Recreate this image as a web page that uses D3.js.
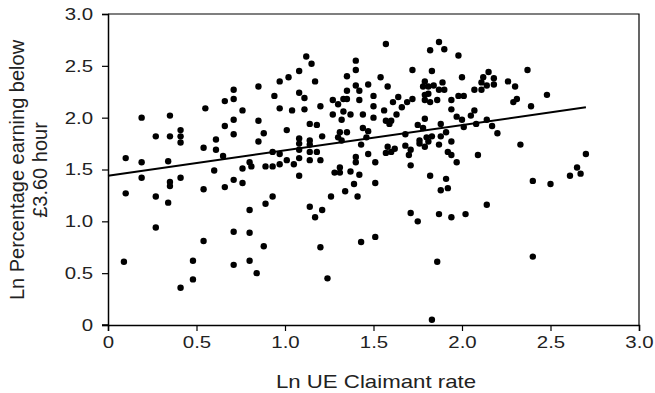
<!DOCTYPE html>
<html>
<head>
<meta charset="utf-8">
<script src="https://cdn.jsdelivr.net/npm/d3@7"></script>
<style>
  html, body { margin: 0; padding: 0; background: #fff; }
  svg { display: block; font-family: "Liberation Sans", Arial, Helvetica, sans-serif; }
</style>
</head>
<body>
<svg id="chart" width="655" height="393"></svg>
<script>
// Ln UE claimant rate (x) and Ln percentage earning below £3.60/hour (y)
const claimantRate = [
  0.10,0.19,0.34,0.19,0.35,0.27,0.35,0.41,0.41,0.41,
  0.55,0.54,0.61,0.61,0.65,0.66,0.66,0.71,0.71,0.71,
  0.71,0.76,0.85,0.85,0.85,0.88,0.80,0.81,0.60,0.76,
  0.89,0.19,0.41,0.35,0.35,0.71,0.76,0.66,0.54,0.10,
  0.27,0.34,0.80,0.89,0.27,0.71,0.80,0.54,0.88,0.09,
  0.48,0.80,0.71,0.84,0.48,0.41,
  0.93,0.93,0.97,0.97,0.97,0.94,0.97,0.93,1.01,1.01,
  1.02,1.04,1.05,1.08,1.08,1.08,1.08,1.08,1.08,1.08,
  1.12,1.11,1.11,1.15,1.14,1.14,1.14,1.14,1.14,1.14,
  1.17,1.18,1.18,1.17,1.20,1.21,1.20,1.21,1.20,1.24,
  1.27,1.30,1.33,1.35,1.35,1.27,1.33,1.37,1.32,1.31,
  1.35,1.30,1.32,1.31,1.28,1.31,1.37,1.26,1.34,1.35,
  1.40,1.40,1.40,1.42,1.42,1.44,1.44,1.47,1.46,1.43,
  1.40,1.40,1.42,1.39,1.41,1.43,1.47,1.50,1.50,1.50,
  1.47,1.51,1.51,1.51,1.54,1.57,1.58,1.56,1.57,1.59,
  1.60,1.61,1.63,1.64,1.66,1.58,1.62,1.57,1.60,1.68,
  1.71,1.70,1.68,1.69,1.72,1.72,1.71,1.71,1.75,1.75,
  1.78,1.79,1.76,1.76,1.81,1.79,1.83,1.82,1.87,1.90,
  1.79,1.78,1.81,1.84,1.89,1.87,1.90,1.79,1.81,1.79,
  1.82,1.86,1.94,1.98,2.01,1.94,2.00,1.88,1.87,1.88,
  1.83,1.80,1.91,1.94,1.92,1.94,1.97,1.82,1.91,1.88,
  1.92,1.87,1.94,1.86,1.83,
  1.98,2.37,2.15,2.12,2.18,2.11,2.14,2.18,2.07,2.11,
  2.26,2.30,2.48,2.31,2.29,2.39,2.07,2.05,1.97,2.00,
  2.14,2.01,2.08,2.17,2.20,2.33,2.09,2.70,2.65,2.02,
  2.14,2.40,2.50,2.61,2.67,2.40
];
const lowPayShare = [
  1.61,1.57,1.58,2.00,2.02,1.82,1.82,1.88,1.82,1.76,
  2.09,1.71,1.69,1.79,1.63,2.16,1.92,1.98,1.84,2.27,
  2.18,2.07,2.30,1.97,1.77,1.85,1.57,1.53,1.49,1.51,
  1.53,1.42,1.42,1.38,1.34,1.40,1.37,1.33,1.31,1.27,
  1.24,1.18,1.11,1.17,0.94,0.90,0.89,0.81,0.76,0.61,
  0.62,0.62,0.58,0.50,0.44,0.36,
  1.67,1.53,1.65,1.55,2.35,2.21,2.09,1.24,1.88,1.59,
  2.39,2.07,1.55,1.80,1.75,1.69,1.61,1.44,2.45,2.24,
  2.59,2.19,2.08,2.52,1.94,1.78,1.74,1.67,1.59,1.14,
  2.35,1.93,1.67,1.04,2.11,1.82,1.59,1.11,0.75,0.45,
  2.17,2.13,2.18,2.18,2.26,2.03,2.06,2.03,1.98,1.86,
  1.86,1.81,1.78,1.52,1.47,1.47,1.48,1.24,1.29,2.40,
  2.31,2.55,2.46,2.26,2.17,2.03,1.90,1.87,1.81,1.74,
  1.62,1.57,1.45,1.36,1.24,0.80,2.32,2.21,2.11,2.00,
  1.65,1.57,1.37,0.85,2.39,2.71,2.30,2.07,1.97,1.94,
  1.97,2.15,2.03,2.20,2.10,1.72,1.70,1.66,1.67,1.73,
  1.69,1.64,1.84,2.15,2.18,2.46,1.54,1.08,1.00,1.93,
  1.90,1.99,1.78,1.75,1.77,1.72,2.45,2.65,2.73,2.66,
  2.35,2.30,2.30,2.31,2.34,2.27,2.27,2.22,2.23,2.17,
  2.15,2.17,2.17,2.21,2.21,2.08,2.39,1.94,1.74,1.82,
  1.82,1.81,1.86,1.77,1.67,1.64,1.57,1.44,1.41,1.30,
  1.32,1.07,1.04,0.61,0.05,
  2.60,2.46,2.44,2.39,2.38,2.34,2.31,2.32,2.27,2.27,
  2.35,2.30,2.22,2.18,2.15,2.11,2.07,2.02,2.01,1.98,
  1.98,1.91,1.94,1.92,1.85,1.74,1.64,1.65,1.52,1.07,
  1.16,1.39,1.36,1.44,1.46,0.66
];
// fitted regression line end points
const fitX = [0, 2.70];
const fitY = [1.44, 2.10];
const xTicks = [0, 0.5, 1.0, 1.5, 2.0, 2.5, 3.0];
const yTicks = [0, 0.5, 1.0, 1.5, 2.0, 2.5, 3.0];
const xTitle = "Ln UE Claimant rate";
const yTitleLines = ["Ln Percentage earning below", "£3.60 hour"];

const svg = d3.select("#chart");
const L = 108, R = 639, T = 14, B = 325;
const x = d3.scaleLinear().domain([0, 3]).range([L, R]);
const y = d3.scaleLinear().domain([0, 3]).range([B, T]);
const fmt = v => v === 0 ? "0" : d3.format(".1f")(v);

// widen horizontal text slightly (reference glyphs are wide)
function widen(sel, k) {
  sel.each(function () {
    const len = this.getComputedTextLength();
    d3.select(this).attr("textLength", len * k).attr("lengthAdjust", "spacingAndGlyphs");
  });
}

// frame (top/right)
svg.append("path")
  .attr("d", `M${L},${T}H${R}V${B}`)
  .attr("fill", "none").attr("stroke", "#000").attr("stroke-width", 1.2);

const xAxis = svg.append("g").attr("transform", `translate(0,${B})`)
  .call(d3.axisBottom(x).tickValues(xTicks).tickFormat(fmt).tickSizeOuter(0).tickSize(6).tickPadding(5));
const yAxis = svg.append("g").attr("transform", `translate(${L},0)`)
  .call(d3.axisLeft(y).tickValues(yTicks).tickFormat(fmt).tickSizeOuter(0).tickSize(6).tickPadding(9));
[xAxis, yAxis].forEach(g => {
  g.select(".domain").attr("stroke", "#000").attr("stroke-width", 1.5);
  g.selectAll(".tick line").attr("stroke", "#000").attr("stroke-width", 1.2);
  g.selectAll(".tick text").attr("fill", "#222").style("font-size", "17px")
    .style("font-family", "'Liberation Sans', Arial, sans-serif");
  widen(g.selectAll(".tick text"), 1.2);
});
// extend bottom axis slightly left to meet y tick
svg.append("line").attr("x1", L - 6).attr("x2", L).attr("y1", B).attr("y2", B)
  .attr("stroke", "#000").attr("stroke-width", 1.5);

// points
const pts = claimantRate.map((v, i) => [v, lowPayShare[i]]);
svg.append("g").selectAll("circle").data(pts).join("circle")
  .attr("cx", d => x(d[0])).attr("cy", d => y(d[1])).attr("r", 3.2).attr("fill", "#000");

// regression line
svg.append("line")
  .attr("x1", x(fitX[0])).attr("y1", y(fitY[0]))
  .attr("x2", x(fitX[1])).attr("y2", y(fitY[1]))
  .attr("stroke", "#000").attr("stroke-width", 2);

// titles
const xt = svg.append("text").attr("x", 376).attr("y", 388)
  .attr("text-anchor", "middle").attr("fill", "#222").style("font-size", "19px").text(xTitle);
widen(xt, 1.17);
const yt = svg.append("text").attr("transform", `translate(0,170) rotate(-90)`)
  .attr("text-anchor", "middle").attr("fill", "#222").style("font-size", "20px");
yt.append("tspan").attr("x", 0).attr("y", 24).text(yTitleLines[0]);
yt.append("tspan").attr("x", 0).attr("y", 47).text(yTitleLines[1]);
</script>
</body>
</html>
